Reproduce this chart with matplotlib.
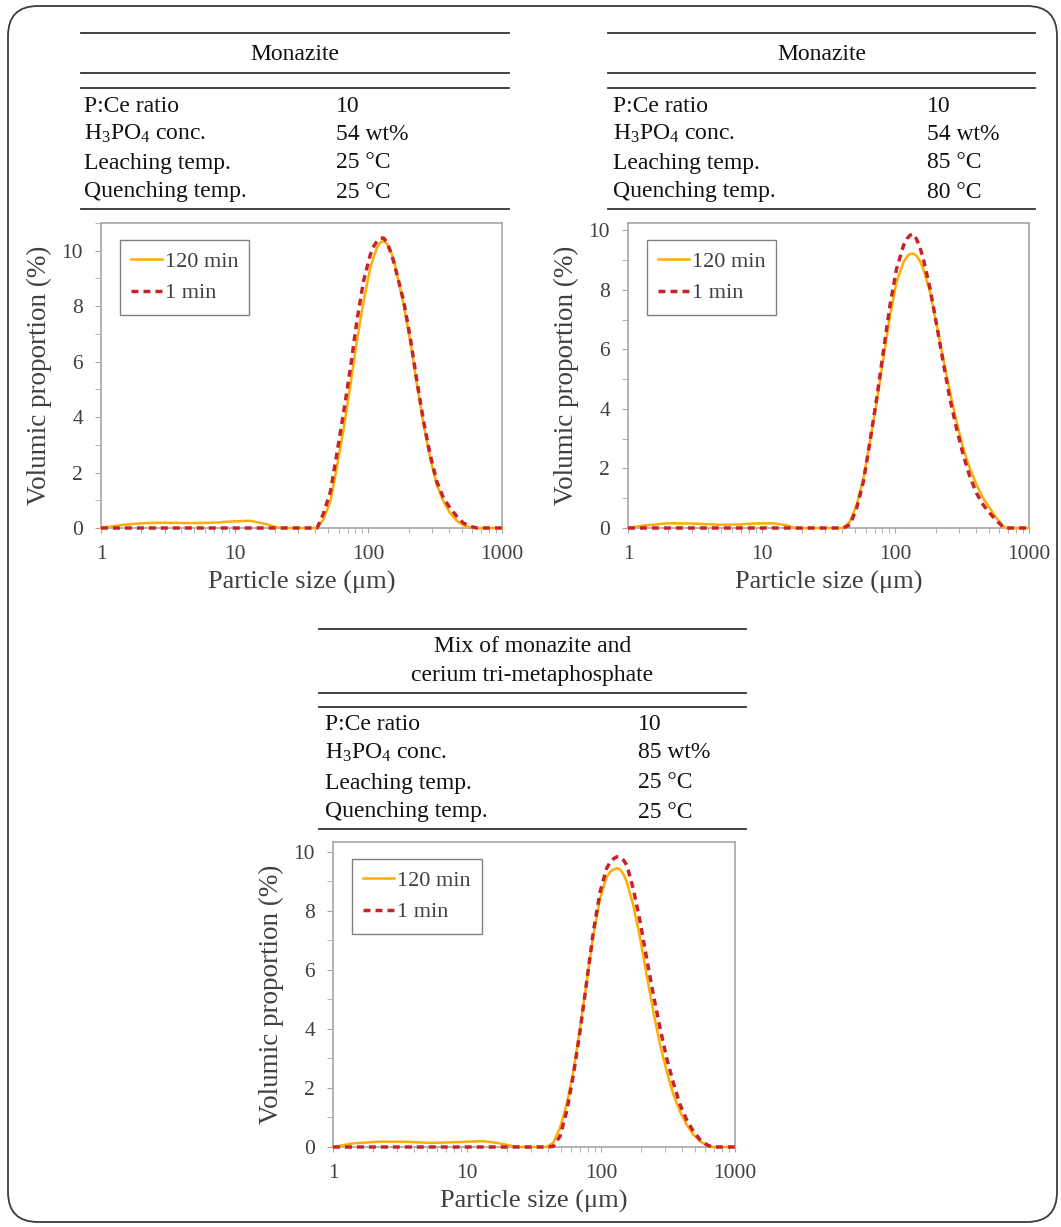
import numpy as np
import matplotlib
matplotlib.use('Agg')
from matplotlib import pyplot as plt
from matplotlib.patches import FancyBboxPatch
from matplotlib.ticker import MultipleLocator, LogLocator, NullFormatter, FixedLocator, FixedFormatter

plt.rcParams['font.family'] = ['Liberation Serif', 'DejaVu Serif']
plt.rcParams['mathtext.fontset'] = 'custom'
plt.rcParams['mathtext.rm'] = 'Liberation Serif'
plt.rcParams['mathtext.it'] = 'Liberation Serif:italic'

W, H = 1061, 1227

# ---- data ----
# top left: monazite, 54 wt%, 25 / 25 C
size_tl = [1, 1.5, 2, 2.7, 4, 5.6, 7.5, 9.8, 13, 16.5, 21, 23, 30, 38,
           41.4, 46, 52, 58, 65.5, 73.5, 82, 92, 103.5, 110, 116, 123, 130, 138, 146, 155, 164, 184,
           206, 231, 259, 290, 325, 365, 409, 459, 514, 577, 647, 800, 1000]
min120_tl = [0, 0.12, 0.17, 0.19, 0.18, 0.18, 0.2, 0.24, 0.26, 0.16, 0.02, 0, 0, 0,
             0, 0.3, 0.96, 2.16, 3.6, 5.17, 6.73, 8.17, 9.38, 9.8, 10.1, 10.3, 10.34, 10.25, 10.04, 9.65, 9.13, 8.05,
             6.73, 5.17, 3.73, 2.52, 1.56, 0.96, 0.54, 0.26, 0.1, 0.02, 0, 0, 0]
min1_tl = [0, 0, 0, 0, 0, 0, 0, 0, 0, 0, 0, 0, 0, 0,
           0, 0.5, 1.3, 2.64, 4.2, 5.77, 7.45, 8.9, 9.86, 10.17, 10.34, 10.44, 10.46, 10.3, 9.98, 9.6, 9.13, 8.17,
           6.85, 5.29, 3.85, 2.64, 1.68, 1.08, 0.72, 0.42, 0.18, 0.06, 0, 0, 0]

# top right: monazite, 54 wt%, 85 / 80 C
size_tr = [1, 1.3, 2, 3, 4.9, 7, 8.6, 12.2, 15.5, 17, 18, 25, 35,
           40.8, 45.8, 51.4, 57.7, 64.6, 72.5, 81.3, 91.2, 102, 115, 122, 129, 136, 144, 153, 162, 182,
           204, 228, 256, 287, 322, 361, 405, 454, 509, 571, 641, 677, 800, 1000]
min120_tr = [0, 0.08, 0.16, 0.15, 0.11, 0.12, 0.15, 0.16, 0.09, 0.02, 0, 0, 0,
             0, 0.22, 0.78, 1.67, 2.9, 4.24, 5.69, 7.14, 8.26, 8.93, 9.12, 9.21, 9.22, 9.15, 8.97, 8.7, 7.92,
             6.81, 5.69, 4.58, 3.57, 2.68, 2.0, 1.45, 1.0, 0.67, 0.33, 0.06, 0, 0, 0]
min1_tr = [0, 0, 0, 0, 0, 0, 0, 0, 0, 0, 0, 0, 0,
           0, 0.11, 0.67, 1.56, 2.9, 4.35, 5.92, 7.48, 8.7, 9.49, 9.72, 9.84, 9.88, 9.71, 9.42, 9.04, 8.04,
           6.81, 5.58, 4.35, 3.35, 2.46, 1.73, 1.17, 0.78, 0.5, 0.25, 0.03, 0, 0, 0]

# bottom: mix, 85 wt%, 25 / 25 C
size_b = [1, 1.4, 2.2, 3.3, 5.3, 7.9, 13.2, 16.7, 22, 25, 33,
          39.3, 44, 49.4, 55.4, 62.2, 69.7, 78.2, 87.7, 98.4, 110, 117, 124, 131, 139, 147, 156, 174,
          196, 219, 246, 276, 309, 347, 389, 436, 489, 548, 615, 670, 800, 1000]
min120_b = [0, 0.12, 0.18, 0.18, 0.14, 0.16, 0.2, 0.14, 0.03, 0, 0,
            0, 0.14, 0.64, 1.43, 2.56, 4.02, 5.6, 7.18, 8.41, 9.14, 9.32, 9.4, 9.44, 9.4, 9.24, 8.97, 8.19,
            7.06, 5.82, 4.58, 3.46, 2.56, 1.77, 1.2, 0.75, 0.42, 0.19, 0.06, 0, 0, 0]
min1_b = [0, 0, 0, 0, 0, 0, 0, 0, 0, 0, 0,
          0, 0.02, 0.36, 1.2, 2.44, 3.91, 5.6, 7.29, 8.64, 9.43, 9.65, 9.76, 9.83, 9.82, 9.72, 9.54, 8.75,
          7.62, 6.39, 5.15, 4.02, 3.01, 2.16, 1.43, 0.92, 0.53, 0.25, 0.08, 0, 0, 0]

row_labels = ['P:Ce ratio', r'H$_3$PO$_4$ conc.', 'Leaching temp.', 'Quenching temp.']
values_tl = ['10', '54 wt%', '25 °C', '25 °C']
values_tr = ['10', '54 wt%', '85 °C', '80 °C']
values_b = ['10', '85 wt%', '25 °C', '25 °C']
series_labels = ['120 min', '1 min']
x_ticks = [1, 10, 100, 1000]

c120 = '#FFAD00'
c1 = '#C8232B'
axis_grey = '#A6A6A6'
text_grey = '#404040'


def rect(l, t, r, b):
    return [l / W, 1 - b / H, (r - l) / W, (b - t) / H]


fig = plt.figure(figsize=(W / 100, H / 100), dpi=100)
fig.patch.set_facecolor('white')

# overlay in pixel coordinates for the frame and tables
ov = fig.add_axes([0, 0, 1, 1])
ov.set_xlim(0, W)
ov.set_ylim(H, 0)
ov.axis('off')
ov.add_patch(FancyBboxPatch((8, 6), 1049, 1216, boxstyle='round,pad=0,rounding_size=30',
                            fill=False, edgecolor='#3c3c3c', lw=1.3))


def draw_table(x0, x1, lines_y, title, title_ys, row_ys, label_x, value_x, values):
    for y in lines_y:
        ov.plot([x0, x1], [y, y], color='#333333', lw=1.3)
    for txt, y in zip(title, title_ys):
        ov.text((x0 + x1) / 2, y, txt, ha='center', va='center', fontsize=17, color='#111111')
    for lab, val, y in zip(row_labels, values, row_ys):
        ov.text(label_x, y, lab, ha='left', va='center', fontsize=17, color='#111111')
        ov.text(value_x, y, val, ha='left', va='center', fontsize=17, color='#111111')


draw_table(81, 509, [33, 73, 88, 209], ['Monazite'], [54], [106, 134, 163, 192], 84, 336, values_tl)
draw_table(608, 1035, [33, 73, 88, 209], ['Monazite'], [54], [106, 134, 163, 192], 613, 927, values_tr)
draw_table(319, 746, [629, 693, 707, 829], ['Mix of monazite and', 'cerium tri-metaphosphate'],
           [646, 675], [725, 753, 783, 812], 325, 638, values_b)


def draw_plot(box, size, y120, y1, ymax):
    ax = fig.add_axes(rect(*box))
    ax.plot(size, y120, color=c120, lw=1.8, label=series_labels[0], clip_on=False, zorder=3)
    ax.plot(size, y1, color=c1, lw=2.5, ls=(0, (2, 1.45)), label=series_labels[1], clip_on=False, zorder=4)
    ax.set_xscale('log')
    ax.set_xlim(1, 1000)
    ax.set_ylim(0, ymax)
    ax.xaxis.set_major_locator(FixedLocator(x_ticks))
    ax.xaxis.set_major_formatter(FixedFormatter([str(v) for v in x_ticks]))
    ax.xaxis.set_minor_locator(LogLocator(base=10, subs=np.arange(2, 10)))
    ax.xaxis.set_minor_formatter(NullFormatter())
    ax.yaxis.set_major_locator(MultipleLocator(2))
    ax.yaxis.set_minor_locator(MultipleLocator(1))
    for s in ax.spines.values():
        s.set_color(axis_grey)
        s.set_linewidth(1.2)
    ax.tick_params(which='both', direction='out', color=axis_grey, labelcolor=text_grey, labelsize=15.5)
    ax.tick_params(axis='y', which='major', length=4, pad=9)
    ax.tick_params(axis='y', which='minor', length=4)
    ax.tick_params(axis='x', which='both', length=3.5, pad=9)
    ax.set_xlabel('Particle size (μm)', fontsize=19, color=text_grey, labelpad=5)
    ax.set_ylabel('Volumic proportion (%)', fontsize=19.5, color=text_grey, labelpad=7)
    leg = ax.legend(loc='upper left', bbox_to_anchor=(0.047, 0.944), borderaxespad=0,
                    fontsize=16, handlelength=1.4, handletextpad=0.12, labelspacing=0.5,
                    borderpad=0.5, fancybox=False, framealpha=1)
    leg.get_frame().set_edgecolor('#808080')
    leg.get_frame().set_linewidth(1.0)
    for t in leg.get_texts():
        t.set_color(text_grey)
    return ax


draw_plot((101, 223, 502, 528), size_tl, min120_tl, min1_tl, 11)
draw_plot((628, 223, 1029, 528), size_tr, min120_tr, min1_tr, 10.25)
draw_plot((333, 842, 735, 1147), size_b, min120_b, min1_b, 10.33)

fig.savefig('out.png', dpi=100, facecolor='white')
